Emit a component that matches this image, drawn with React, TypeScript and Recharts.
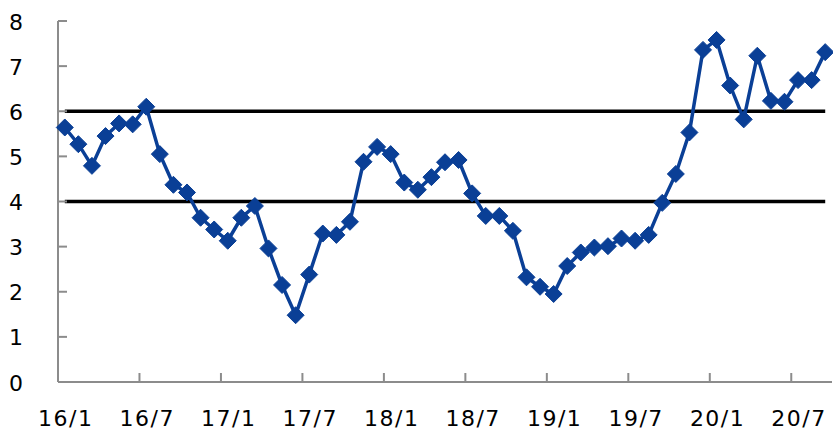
import { ComposedChart, Line, XAxis, YAxis } from "recharts";

// monthly labels, 16/1 .. 20/9
const months = [
  "16/1", "16/2", "16/3", "16/4", "16/5", "16/6", "16/7", "16/8", "16/9", "16/10", "16/11", "16/12",
  "17/1", "17/2", "17/3", "17/4", "17/5", "17/6", "17/7", "17/8", "17/9", "17/10", "17/11", "17/12",
  "18/1", "18/2", "18/3", "18/4", "18/5", "18/6", "18/7", "18/8", "18/9", "18/10", "18/11", "18/12",
  "19/1", "19/2", "19/3", "19/4", "19/5", "19/6", "19/7", "19/8", "19/9", "19/10", "19/11", "19/12",
  "20/1", "20/2", "20/3", "20/4", "20/5", "20/6", "20/7", "20/8", "20/9",
];

const values = [
  5.64, 5.27, 4.79, 5.45, 5.73, 5.71, 6.1, 5.05, 4.37, 4.2, 3.64, 3.38,
  3.13, 3.64, 3.9, 2.96, 2.15, 1.48, 2.38, 3.29, 3.26, 3.55, 4.88, 5.21,
  5.05, 4.42, 4.26, 4.54, 4.87, 4.92, 4.18, 3.68, 3.68, 3.35, 2.32, 2.11,
  1.95, 2.57, 2.87, 2.98, 3.01, 3.18, 3.13, 3.26, 3.97, 4.61, 5.53, 7.36,
  7.58, 6.57, 5.82, 7.23, 6.23, 6.21, 6.69, 6.69, 7.31,
];

// band limits drawn as flat black lines
const upperLimit = 6;
const lowerLimit = 4;

const yTicks = [0, 1, 2, 3, 4, 5, 6, 7, 8];

const data = months.map((m, i) => ({
  m,
  v: values[i],
  upper: upperLimit,
  lower: lowerLimit,
}));

const W = 833;
const H = 431;
const MARGIN = { top: 21, right: 1, bottom: 0, left: 0 };
const Y_AXIS_W = 58;
const X_AXIS_H = 49;
const PLOT_W = W - Y_AXIS_W - MARGIN.right;

const AXIS = "#8c8c8c";
const BLUE = "#0a3f96";
const FONT = "'DejaVu Sans', Verdana, sans-serif";

const Diamond = (props: any) => {
  const { cx, cy } = props;
  if (cx == null || cy == null) return null;
  const r = 8.5;
  return (
    <polygon
      points={`${cx},${cy - r} ${cx + r},${cy} ${cx},${cy + r} ${cx - r},${cy}`}
      fill={BLUE}
      stroke={BLUE}
      strokeWidth={1}
      strokeLinejoin="round"
    />
  );
};

const XTick = (props: any) => {
  const { x, y, payload } = props;
  const band = PLOT_W / months.length;
  const tx = x - band / 2;
  return (
    <g>
      <line x1={tx} x2={tx} y1={y} y2={y - 9} stroke={AXIS} strokeWidth={2} />
      <text
        x={x + 1}
        y={y + 44}
        textAnchor="middle"
        fontSize={22}
        letterSpacing={1.5}
        fontFamily={FONT}
        fill="#000"
      >
        {payload.value}
      </text>
    </g>
  );
};

const YTick = (props: any) => {
  const { x, y, payload } = props;
  return (
    <g>
      <line x1={x} x2={x + 9} y1={y} y2={y} stroke={AXIS} strokeWidth={2} />
      <text
        x={x - 35}
        y={y + 1}
        textAnchor="end"
        dominantBaseline="central"
        fontSize={22}
        fontFamily={FONT}
        fill="#000"
      >
        {payload.value}
      </text>
    </g>
  );
};

export default function App() {
  return (
    <div style={{ position: "absolute", left: 0, top: 0, width: W, height: H, background: "#fff" }}>
      <ComposedChart width={W} height={H} data={data} margin={MARGIN}>
        <XAxis
          dataKey="m"
          scale="band"
          interval={5}
          height={X_AXIS_H}
          tickSize={0}
          tickMargin={0}
          tickLine={false}
          axisLine={{ stroke: AXIS, strokeWidth: 2 }}
          tick={<XTick />}
        />
        {/* top edge of the plot box */}
        <XAxis
          xAxisId="top"
          dataKey="m"
          scale="band"
          orientation="top"
          height={0}
          tick={false}
          tickLine={false}
          axisLine={{ stroke: AXIS, strokeWidth: 2 }}
        />
        <YAxis
          domain={[0, 8]}
          ticks={yTicks}
          width={Y_AXIS_W}
          tickSize={0}
          tickMargin={0}
          tickLine={false}
          axisLine={{ stroke: AXIS, strokeWidth: 2 }}
          tick={<YTick />}
        />
        {/* right edge of the plot box */}
        <YAxis
          yAxisId="right"
          orientation="right"
          domain={[0, 8]}
          width={0}
          tick={false}
          tickLine={false}
          axisLine={{ stroke: AXIS, strokeWidth: 2 }}
        />
        <Line
          dataKey="upper"
          stroke="#000"
          strokeWidth={3.5}
          dot={false}
          activeDot={false}
          isAnimationActive={false}
        />
        <Line
          dataKey="lower"
          stroke="#000"
          strokeWidth={3.5}
          dot={false}
          activeDot={false}
          isAnimationActive={false}
        />
        <Line
          dataKey="v"
          stroke={BLUE}
          strokeWidth={3.5}
          dot={<Diamond />}
          activeDot={false}
          isAnimationActive={false}
        />
      </ComposedChart>
    </div>
  );
}
